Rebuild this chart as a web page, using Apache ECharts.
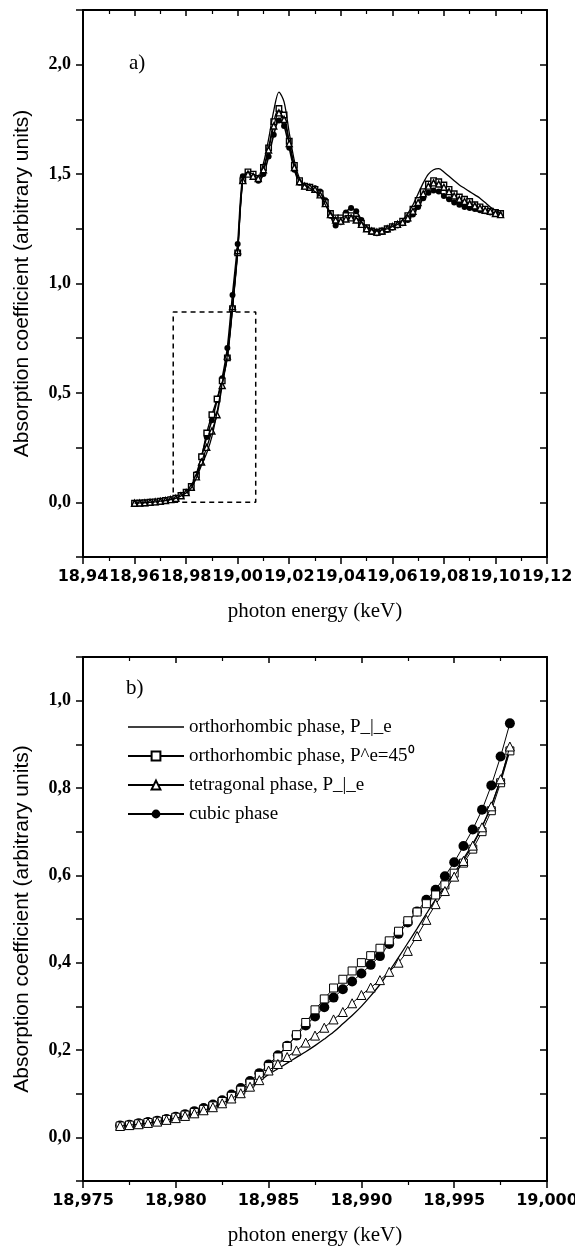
<!DOCTYPE html>
<html>
<head>
<meta charset="utf-8">
<script src="https://cdn.jsdelivr.net/npm/echarts@6/dist/echarts.min.js"></script>
<style>html,body{margin:0;padding:0;background:#fff}#c{width:575px;height:1250px}</style>
</head>
<body>
<div id="c"></div>
<script>
// ---------- panel a) ----------
const energyA = [18.960,18.962,18.964,18.966,18.968,18.970,18.972,18.974,18.976,18.978,
  18.980,18.982,18.984,18.986,18.988,18.990,18.992,18.994,18.996,18.998,
  19.000,19.002,19.004,19.006,19.008,19.010,19.012,19.014,19.016,19.018,
  19.020,19.022,19.024,19.026,19.028,19.030,19.032,19.034,19.036,19.038,
  19.040,19.042,19.044,19.046,19.048,19.050,19.052,19.054,19.056,19.058,
  19.060,19.062,19.064,19.066,19.068,19.070,19.072,19.074,19.076,19.078,
  19.080,19.082,19.084,19.086,19.088,19.090,19.092,19.094,19.096,19.098,
  19.100,19.102];
const orthoPerpA = [-0.004,-0.003,-0.002,0.000,0.002,0.005,0.008,0.012,0.018,0.029,
  0.042,0.066,0.112,0.170,0.225,0.300,0.412,0.545,0.672,0.890,
  1.150,1.480,1.510,1.500,1.490,1.550,1.660,1.790,1.875,1.830,
  1.690,1.560,1.480,1.450,1.435,1.420,1.400,1.360,1.320,1.300,
  1.300,1.310,1.310,1.300,1.280,1.260,1.245,1.240,1.245,1.250,
  1.260,1.270,1.290,1.320,1.360,1.410,1.460,1.500,1.520,1.525,
  1.510,1.490,1.470,1.450,1.435,1.420,1.405,1.390,1.370,1.350,
  1.335,1.320];
const ortho45A = [-0.004,-0.003,-0.002,0.000,0.002,0.005,0.008,0.012,0.019,0.031,
  0.046,0.072,0.124,0.208,0.317,0.400,0.472,0.555,0.660,0.885,
  1.140,1.470,1.510,1.500,1.480,1.530,1.620,1.740,1.800,1.770,
  1.650,1.540,1.470,1.445,1.440,1.430,1.410,1.370,1.320,1.300,
  1.300,1.310,1.310,1.295,1.275,1.255,1.240,1.235,1.240,1.250,
  1.260,1.270,1.285,1.310,1.340,1.380,1.420,1.455,1.470,1.465,
  1.450,1.430,1.410,1.395,1.385,1.375,1.360,1.350,1.340,1.330,
  1.325,1.320];
const tetraA = [-0.004,-0.003,-0.002,0.000,0.002,0.005,0.008,0.012,0.018,0.030,
  0.044,0.069,0.116,0.184,0.251,0.326,0.400,0.534,0.668,0.895,
  1.150,1.470,1.500,1.490,1.480,1.520,1.610,1.720,1.780,1.750,
  1.640,1.530,1.465,1.445,1.440,1.430,1.405,1.365,1.315,1.290,
  1.285,1.295,1.300,1.290,1.270,1.250,1.240,1.235,1.240,1.250,
  1.260,1.270,1.280,1.300,1.330,1.370,1.410,1.445,1.460,1.455,
  1.440,1.420,1.400,1.385,1.375,1.365,1.355,1.345,1.335,1.330,
  1.320,1.315];
const cubicA = [-0.004,-0.003,-0.002,0.000,0.002,0.005,0.008,0.013,0.020,0.032,
  0.047,0.075,0.129,0.210,0.298,0.375,0.466,0.567,0.705,0.948,
  1.180,1.490,1.500,1.490,1.470,1.500,1.580,1.680,1.745,1.720,
  1.620,1.520,1.460,1.445,1.440,1.435,1.420,1.380,1.310,1.265,
  1.280,1.325,1.345,1.330,1.290,1.255,1.235,1.230,1.235,1.245,
  1.255,1.265,1.275,1.290,1.315,1.350,1.390,1.415,1.425,1.420,
  1.400,1.385,1.370,1.360,1.350,1.345,1.340,1.335,1.330,1.325,
  1.320,1.315];
const zoomBox = [18.975, 19.007, 0.0, 0.87]; // xmin, xmax, ymin, ymax of dashed frame

// ---------- panel b) ----------
const energyB = [18.9770,18.9775,18.9780,18.9785,18.9790,18.9795,18.9800,18.9805,18.9810,18.9815,
  18.9820,18.9825,18.9830,18.9835,18.9840,18.9845,18.9850,18.9855,18.9860,18.9865,
  18.9870,18.9875,18.9880,18.9885,18.9890,18.9895,18.9900,18.9905,18.9910,18.9915,
  18.9920,18.9925,18.9930,18.9935,18.9940,18.9945,18.9950,18.9955,18.9960,18.9965,
  18.9970,18.9975,18.9980];
const orthoPerpB = [0.025,0.027,0.029,0.032,0.035,0.038,0.042,0.047,0.053,0.059,
  0.066,0.075,0.086,0.098,0.112,0.128,0.144,0.157,0.170,0.183,
  0.196,0.210,0.225,0.241,0.260,0.279,0.300,0.324,0.350,0.380,
  0.412,0.445,0.478,0.512,0.545,0.574,0.605,0.638,0.672,0.712,
  0.760,0.820,0.890];
const ortho45B = [0.026,0.028,0.031,0.034,0.037,0.041,0.046,0.051,0.057,0.064,
  0.072,0.082,0.094,0.108,0.124,0.142,0.162,0.184,0.208,0.235,
  0.263,0.292,0.317,0.342,0.362,0.381,0.400,0.416,0.433,0.450,
  0.472,0.496,0.516,0.535,0.555,0.578,0.605,0.628,0.660,0.700,
  0.748,0.812,0.885];
const tetraB = [0.026,0.028,0.030,0.033,0.036,0.040,0.044,0.049,0.055,0.062,
  0.069,0.078,0.089,0.101,0.116,0.131,0.153,0.168,0.184,0.199,
  0.217,0.233,0.251,0.270,0.287,0.307,0.326,0.343,0.360,0.379,
  0.400,0.427,0.461,0.498,0.534,0.564,0.597,0.633,0.668,0.710,
  0.758,0.820,0.895];
const cubicB = [0.027,0.029,0.032,0.035,0.038,0.042,0.047,0.053,0.060,0.067,
  0.075,0.085,0.098,0.113,0.129,0.147,0.167,0.188,0.210,0.233,
  0.256,0.277,0.298,0.320,0.339,0.357,0.375,0.395,0.415,0.443,
  0.466,0.492,0.517,0.544,0.567,0.598,0.630,0.667,0.705,0.750,
  0.806,0.872,0.948];

const seriesNames = ['orthorhombic phase, P_|_e', 'orthorhombic phase, P^e=45\u2070',
  'tetragonal phase, P_|_e', 'cubic phase'];
const xTitle = 'photon energy (keV)';
const yTitle = 'Absorption coefficient (arbitrary units)';

// ---------- helpers ----------
const pair = (xs, ys) => xs.map((x, i) => [x, ys[i]]);
const comma = (v, d) => v.toFixed(d).replace('.', ',');
const boxData = [[zoomBox[0], zoomBox[2]], [zoomBox[1], zoomBox[2]], [zoomBox[1], zoomBox[3]],
  [zoomBox[0], zoomBox[3]], [zoomBox[0], zoomBox[2]]];

const BLACK = '#000';
const tickFont = {fontFamily: 'DejaVu Sans', fontWeight: 'bold', fontSize: 16, color: BLACK};
const yFont = {fontFamily: 'Liberation Serif', fontWeight: 'bold', fontSize: 18, color: BLACK};
const axisLine = {show: true, onZero: false, lineStyle: {color: BLACK, width: 2}};

function mainX(grid, min, max, interval, dec) {
  return {type: 'value', gridIndex: grid, position: 'bottom', min, max, interval,
    axisLine, splitLine: {show: false},
    axisTick: {show: true, inside: false, length: 7, lineStyle: {color: BLACK, width: 1.5}},
    minorTick: {show: true, splitNumber: 2, length: 4, lineStyle: {color: BLACK, width: 1.2}},
    axisLabel: Object.assign({margin: 12, showMinLabel: true, showMaxLabel: true, hideOverlap: false,
      formatter: v => comma(v, dec)}, tickFont),
    name: xTitle, nameLocation: 'middle', nameGap: 44,
    nameTextStyle: {fontFamily: 'Liberation Serif', fontSize: 21, color: BLACK}};
}
function mirrorX(grid, min, max, interval) {
  return {type: 'value', gridIndex: grid, position: 'top', min, max, interval,
    axisLine, splitLine: {show: false}, axisLabel: {show: false},
    axisTick: {show: true, inside: true, length: 6, lineStyle: {color: BLACK, width: 1.5}},
    minorTick: {show: true, splitNumber: 2, length: 4, lineStyle: {color: BLACK, width: 1.2}}};
}
function mainY(grid, min, max, interval, isMajor) {
  return {type: 'value', gridIndex: grid, position: 'left', min, max, interval,
    axisLine, splitLine: {show: false},
    axisTick: {show: true, inside: false, length: 7, lineStyle: {color: BLACK, width: 1.5}},
    axisLabel: Object.assign({margin: 12, showMinLabel: true, showMaxLabel: true,
      formatter: v => isMajor(v) ? comma(v, 1) : ''}, yFont),
    name: yTitle, nameLocation: 'middle', nameGap: 50,
    nameTextStyle: {fontFamily: 'Liberation Sans', fontSize: 21, color: BLACK}};
}
function mirrorY(grid, min, max, interval) {
  return {type: 'value', gridIndex: grid, position: 'right', min, max, interval,
    axisLine, splitLine: {show: false}, axisLabel: {show: false},
    axisTick: {show: true, inside: true, length: 7, lineStyle: {color: BLACK, width: 1.5}}};
}

const hollow = {color: '#fff', borderColor: BLACK, borderWidth: 1};
const hollowA = {color: '#fff', borderColor: BLACK, borderWidth: 1.4};
const solid = {color: BLACK, borderColor: BLACK, borderWidth: 0};
const ln = w => ({color: BLACK, width: w});

const option = {
  backgroundColor: '#fff',
  animation: false,
  title: [
    {text: 'a)', left: 124, top: 48, textStyle: {fontFamily: 'Liberation Serif', fontSize: 21, fontWeight: 'normal', color: BLACK}},
    {text: 'b)', left: 121, top: 673, textStyle: {fontFamily: 'Liberation Serif', fontSize: 21, fontWeight: 'normal', color: BLACK}}
  ],
  grid: [
    {left: 83, top: 10, width: 464, height: 547, outerBoundsMode: 'none', containLabel: false},
    {left: 83, top: 657, width: 464, height: 524, outerBoundsMode: 'none', containLabel: false}
  ],
  legend: {
    data: [
      {name: seriesNames[0], icon: 'path://M0,0H56V1.3H0Z'},
      seriesNames[1], seriesNames[2], seriesNames[3]
    ],
    orient: 'vertical', left: 127, top: 717, padding: 0,
    itemWidth: 56, itemHeight: 11, itemGap: 9, selectedMode: false,
    textStyle: {fontFamily: 'Liberation Serif', fontSize: 19, lineHeight: 20, color: BLACK}
  },
  xAxis: [
    mainX(0, 18.94, 19.12, 0.02, 2),
    mirrorX(0, 18.94, 19.12, 0.02),
    mainX(1, 18.975, 19.000, 0.005, 3),
    mirrorX(1, 18.975, 19.000, 0.005)
  ],
  yAxis: [
    mainY(0, -0.25, 2.25, 0.25, v => Math.abs(v * 2 - Math.round(v * 2)) < 1e-6),
    mirrorY(0, -0.25, 2.25, 0.25),
    mainY(1, -0.1, 1.1, 0.1, v => Math.round(v * 10) % 2 === 0),
    mirrorY(1, -0.1, 1.1, 0.1)
  ],
  series: [
    // panel b
    {name: seriesNames[0], type: 'line', xAxisIndex: 2, yAxisIndex: 2, data: pair(energyB, orthoPerpB),
      showSymbol: false, symbol: 'none', smooth: 0.3, lineStyle: ln(1.3), itemStyle: {color: BLACK}, z: 5},
    {name: seriesNames[3], type: 'line', xAxisIndex: 2, yAxisIndex: 2, data: pair(energyB, cubicB),
      symbol: 'circle', symbolSize: 10, lineStyle: ln(1), itemStyle: solid, z: 6},
    {name: seriesNames[1], type: 'line', xAxisIndex: 2, yAxisIndex: 2, data: pair(energyB, ortho45B),
      symbol: 'rect', symbolSize: 8, lineStyle: ln(1), itemStyle: hollow, z: 7},
    {name: seriesNames[2], type: 'line', xAxisIndex: 2, yAxisIndex: 2, data: pair(energyB, tetraB),
      symbol: 'triangle', symbolSize: 9, lineStyle: ln(1), itemStyle: hollow, z: 8},
    // panel a
    {name: 'a-cubic', type: 'line', xAxisIndex: 0, yAxisIndex: 0, data: pair(energyA, cubicA),
      symbol: 'circle', symbolSize: 6, smooth: 0.3, lineStyle: ln(1.6), itemStyle: solid, z: 4},
    {name: 'a-ortho45', type: 'line', xAxisIndex: 0, yAxisIndex: 0, data: pair(energyA, ortho45A),
      symbol: 'rect', symbolSize: 5.5, smooth: 0.3, lineStyle: ln(1.3), itemStyle: hollowA, z: 5},
    {name: 'a-tetra', type: 'line', xAxisIndex: 0, yAxisIndex: 0, data: pair(energyA, tetraA),
      symbol: 'triangle', symbolSize: 6, smooth: 0.3, lineStyle: ln(1.3), itemStyle: hollowA, z: 6},
    {name: 'a-orthoPerp', type: 'line', xAxisIndex: 0, yAxisIndex: 0, data: pair(energyA, orthoPerpA),
      symbol: 'none', smooth: 0.3, lineStyle: ln(1.3), itemStyle: {color: BLACK}, z: 7},
    {name: 'zoom-box', type: 'line', xAxisIndex: 0, yAxisIndex: 0, data: boxData,
      symbol: 'none', lineStyle: {color: BLACK, width: 1.5, type: [5, 4]}, z: 3}
  ]
};

const chart = echarts.init(document.getElementById('c'), null, {renderer: 'canvas'});
chart.setOption(option);
</script>
</body>
</html>
